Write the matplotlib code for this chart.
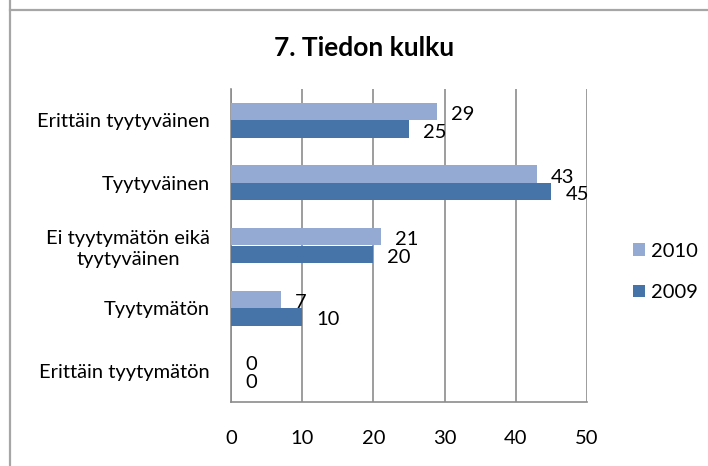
import numpy as np
import matplotlib
matplotlib.use("Agg")
import matplotlib.pyplot as plt
from matplotlib.lines import Line2D
from matplotlib.patches import Patch

plt.rcParams['font.family'] = ['Lato', 'DejaVu Sans']

# Data
title = "7. Tiedon kulku"
categories = ["Erittäin tyytyväinen", "Tyytyväinen", "Ei tyytymätön eikä\ntyytyväinen",
              "Tyytymätön", "Erittäin tyytymätön"]
values_2010 = [29, 43, 21, 7, 0]
values_2009 = [25, 45, 20, 10, 0]
series_names = ["2010", "2009"]
x_ticks = [0, 10, 20, 30, 40, 50]

light = "#94aad3"
dark = "#4673a8"
grid_col = "#8c8c8c"
fs = 14.5

fig = plt.figure(figsize=(7.08, 4.66), dpi=100)

# frame lines from the cropped Excel chart border
fig.add_artist(Line2D([10 / 708, 10 / 708], [0, 1], color="#a6a6a6", lw=1.6, transform=fig.transFigure))
fig.add_artist(Line2D([10 / 708, 1], [1 - 10 / 466, 1 - 10 / 466], color="#a6a6a6", lw=1.6,
                      transform=fig.transFigure))

ax = fig.add_axes([231 / 708, 1 - 402 / 466, (587 - 231) / 708, (402 - 89) / 466])

y = np.arange(len(categories))
h = 0.28
ax.barh(y - h / 2, values_2010, height=h, color=light, lw=0, zorder=3)
ax.barh(y + h / 2, values_2009, height=h, color=dark, lw=0, zorder=3)

for i in range(len(categories)):
    ax.annotate(str(values_2010[i]), (values_2010[i], y[i] - h / 2), xytext=(14, -3),
                textcoords="offset pixels", ha="left", va="center", fontsize=fs, color="black")
    ax.annotate(str(values_2009[i]), (values_2009[i], y[i] + h / 2), xytext=(14, -3),
                textcoords="offset pixels", ha="left", va="center", fontsize=fs, color="black")

ax.set_xlim(0, 50)
ax.set_ylim(len(categories) - 0.5, -0.5)
ax.set_xticks(x_ticks)
ax.set_yticks(y)
ax.set_yticklabels(categories, fontsize=fs, multialignment="center", linespacing=1.3)
ax.tick_params(axis="y", length=0, pad=15)
ax.tick_params(axis="x", length=0, pad=20, labelsize=fs)
ax.grid(axis="x", color=grid_col, lw=1.2, zorder=0)
for s in ["top", "right"]:
    ax.spines[s].set_visible(False)
for s in ["left", "bottom"]:
    ax.spines[s].set_color(grid_col)
    ax.spines[s].set_linewidth(1.2)

fig.text(364 / 708, 1 - 48 / 466, title, ha="center", va="center", fontsize=19, fontweight="bold")

handles = [Patch(facecolor=light), Patch(facecolor=dark)]
fig.legend(handles, series_names, loc="center left", bbox_to_anchor=(633 / 708, 1 - 272 / 466),
           frameon=False, fontsize=fs, handlelength=0.6, handleheight=0.6, handletextpad=0.3,
           labelspacing=1.2, borderpad=0, borderaxespad=0)

fig.savefig("out.png", dpi=100)
